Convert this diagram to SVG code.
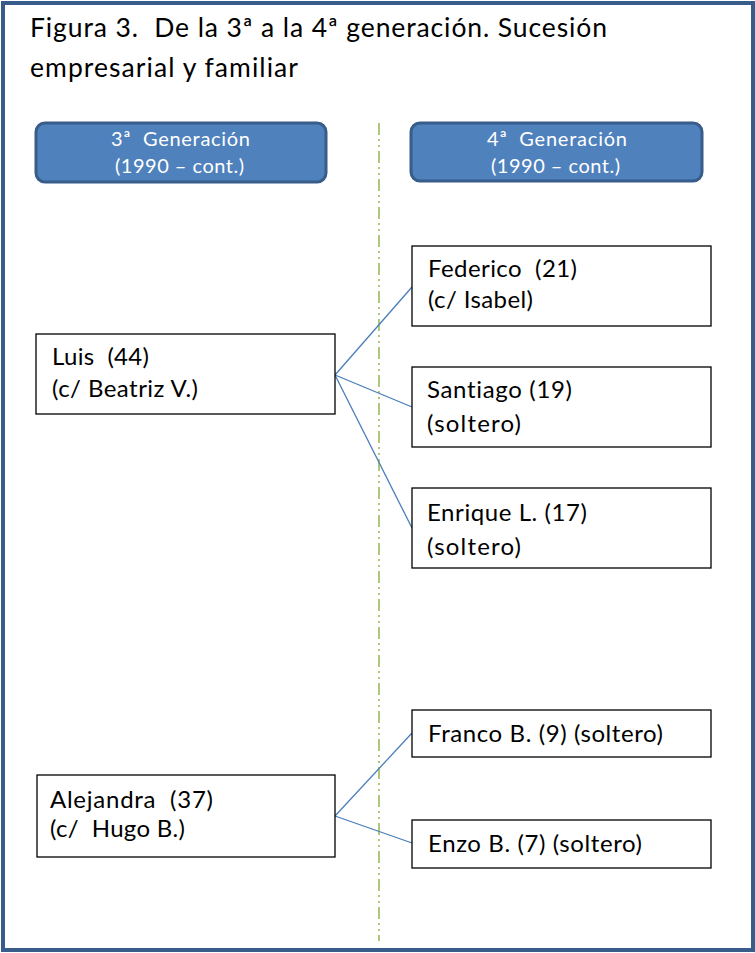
<svg xmlns="http://www.w3.org/2000/svg" width="755" height="953" viewBox="0 0 755 953">
  <style>
    text { font-family: Lato, "Open Sans", "Liberation Sans", sans-serif; fill: #000; white-space: pre; font-variant-ligatures: none; }
    .title { font-size: 26.5px; }
    .hdr rect { fill: #4F81BD; stroke: #385D8A; stroke-width: 3; }
    .hdr text { fill: #fff; font-size: 20px; }
    .node rect { fill: #fff; stroke: #000; stroke-width: 1.3; }
    .node text { font-size: 24px; }
    .link { stroke: #4A7EBB; stroke-width: 1.3; fill: none; }
    .divider { stroke: #9BBB59; stroke-width: 1.6; stroke-dasharray: 12 4 2 4 2 4; fill: none; }
  </style>

  <!-- frame -->
  <rect x="3" y="3" width="750" height="947" fill="#fff" stroke="#385D8A" stroke-width="4"/>

  <!-- caption -->
  <g id="title">
    <text class="title" x="30" y="37" textLength="577" lengthAdjust="spacing">Figura 3.  De la 3ª a la 4ª generación. Sucesión</text>
    <text class="title" x="30" y="77" textLength="268" lengthAdjust="spacing">empresarial y familiar</text>
  </g>

  <!-- generation divider -->
  <line class="divider" x1="379" y1="123" x2="379" y2="941"/>

  <!-- column headers -->
  <g id="gen3" class="hdr">
    <rect x="36" y="123" width="290" height="59" rx="9"/>
    <text x="111" y="146" textLength="139" lengthAdjust="spacing">3ª  Generación</text>
    <text x="115" y="173" textLength="129" lengthAdjust="spacing">(1990 – cont.)</text>
  </g>
  <g id="gen4" class="hdr">
    <rect x="411" y="123" width="291" height="58" rx="9"/>
    <text x="487" y="146" textLength="140" lengthAdjust="spacing">4ª  Generación</text>
    <text x="491" y="173" textLength="129" lengthAdjust="spacing">(1990 – cont.)</text>
  </g>

  <!-- connectors -->
  <g id="connectors">
    <line class="link" x1="335" y1="375" x2="412" y2="287"/>
    <line class="link" x1="335" y1="375" x2="412" y2="407"/>
    <line class="link" x1="335" y1="375" x2="412" y2="528"/>
    <line class="link" x1="335" y1="816" x2="412" y2="733"/>
    <line class="link" x1="335" y1="816" x2="412" y2="843"/>
  </g>

  <!-- 3rd generation -->
  <g id="luis" class="node">
    <rect x="36" y="334" width="299" height="80"/>
    <text x="52" y="365" textLength="97" lengthAdjust="spacing">Luis  (44)</text>
    <text x="52" y="397" textLength="146" lengthAdjust="spacing">(c/ Beatriz V.)</text>
  </g>
  <g id="alejandra" class="node">
    <rect x="37" y="775" width="298" height="82"/>
    <text x="50" y="808" textLength="163" lengthAdjust="spacing">Alejandra  (37)</text>
    <text x="50" y="837" textLength="135" lengthAdjust="spacing">(c/  Hugo B.)</text>
  </g>

  <!-- 4th generation -->
  <g id="federico" class="node">
    <rect x="412" y="246" width="299" height="80"/>
    <text x="428" y="277" textLength="149" lengthAdjust="spacing">Federico  (21)</text>
    <text x="428" y="308" textLength="105" lengthAdjust="spacing">(c/ Isabel)</text>
  </g>
  <g id="santiago" class="node">
    <rect x="412" y="367" width="299" height="80"/>
    <text x="427" y="398" textLength="145" lengthAdjust="spacing">Santiago (19)</text>
    <text x="427" y="432" textLength="94" lengthAdjust="spacing">(soltero)</text>
  </g>
  <g id="enrique" class="node">
    <rect x="412" y="488" width="299" height="80"/>
    <text x="427" y="521" textLength="160" lengthAdjust="spacing">Enrique L. (17)</text>
    <text x="427" y="555" textLength="94" lengthAdjust="spacing">(soltero)</text>
  </g>
  <g id="franco" class="node">
    <rect x="412" y="710" width="299" height="47"/>
    <text x="428" y="742" textLength="235" lengthAdjust="spacing">Franco B. (9) (soltero)</text>
  </g>
  <g id="enzo" class="node">
    <rect x="412" y="820" width="299" height="48"/>
    <text x="428" y="852" textLength="214" lengthAdjust="spacing">Enzo B. (7) (soltero)</text>
  </g>
</svg>
